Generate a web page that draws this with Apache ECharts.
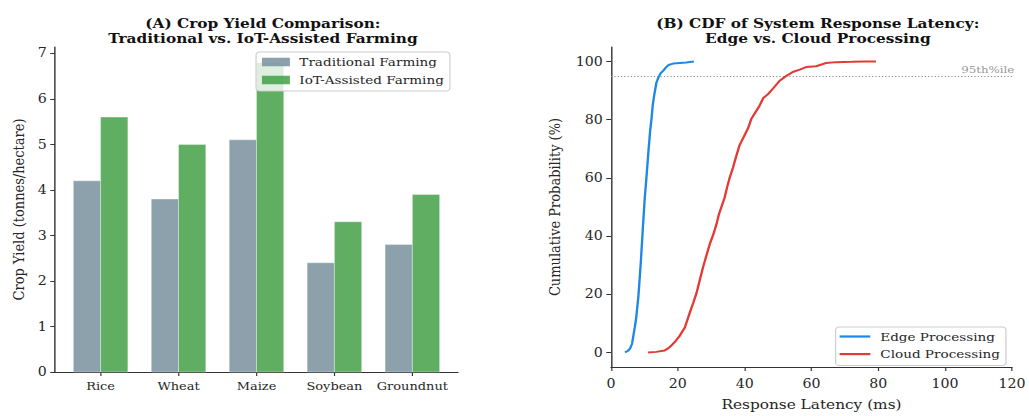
<!DOCTYPE html>
<html>
<head>
<meta charset="utf-8">
<script src="https://cdn.jsdelivr.net/npm/echarts@6/dist/echarts.min.js"></script>
<style>
html,body{margin:0;padding:0;background:#fff;overflow:hidden;width:1029px;height:416px;}
#main{width:872px;height:416px;transform:scaleX(1.18);transform-origin:0 0;}
</style>
</head>
<body>
<div id="main"></div>
<script>
// ---- Data ----
var categories = ['Rice', 'Wheat', 'Maize', 'Soybean', 'Groundnut'];
var traditional = [4.2, 3.8, 5.1, 2.4, 2.8];
var iotAssisted = [5.6, 5.0, 6.8, 3.3, 3.9];
var yieldTicks = [0, 1, 2, 3, 4, 5, 6, 7];

var edgeLatency = [4.2, 5.0, 5.7, 6.3, 6.7, 7.1, 7.5, 8.2, 8.9, 9.6, 10.1, 10.6, 11.2, 11.7, 12.1, 12.5, 12.9, 13.6, 14.3, 14.9, 15.6, 16.3, 17.2, 18.6, 20.5, 22.5, 24.8];
var edgeCdf     = [0, 0.5, 1.3, 3, 5.8, 8.5, 11.5, 19.3, 30.6, 44, 53, 60, 69, 76, 80, 85, 88.2, 92.8, 94.8, 96, 96.8, 97.8, 98.8, 99.3, 99.5, 99.7, 100];
var cloudLatency = [11.1, 13.5, 16.1, 17.2, 18.1, 19.4, 20.6, 22.1, 22.8, 23.6, 24.6, 25.6, 26.6, 27.6, 28.6, 29.6, 30.6, 31.6, 32.3, 33.0, 34.0, 34.8, 35.5, 36.5, 37.5, 38.5, 39.7, 41.0, 42.0, 43.2, 44.5, 45.6, 47.0, 48.7, 50.4, 52.4, 54.4, 56.5, 58.4, 61.4, 63.0, 64.4, 67.4, 72.0, 76.0, 79.3];
var cloudCdf     = [0, 0.2, 0.7, 1.5, 2.4, 4, 5.8, 8.6, 11, 13.7, 17, 20.4, 25, 29.5, 33.5, 37.4, 40.5, 44.2, 47.5, 49.8, 53.2, 57, 60, 63.5, 67.5, 71.3, 74, 77, 80.3, 82.5, 84.9, 87.5, 88.8, 91, 93.3, 95, 96.4, 97.2, 98.1, 98.4, 99, 99.5, 99.8, 99.9, 100, 100];
var latencyTicks = [0, 20, 40, 60, 80, 100, 120];
var probTicks = [0, 20, 40, 60, 80, 100];
var percentileLevel = 95;

// ---- Build ----
function zip(a, b) { return a.map(function (v, i) { return [v, b[i]]; }); }
var FONT = '"DejaVu Serif", serif';
var AX = '#333';
var TXT = '#262626';
var BW = 0.35;

function barRenderer(offset) {
  return function (params, api) {
    var x = api.value(0) + offset;
    var v = api.value(1);
    var p0 = api.coord([x - BW / 2, v]);
    var p1 = api.coord([x + BW / 2, 0]);
    return {
      type: 'rect',
      shape: { x: p0[0], y: p0[1], width: p1[0] - p0[0], height: p1[1] - p0[1] },
      style: api.style({ stroke: 'rgba(255,255,255,0.8)', lineWidth: 0.5 })
    };
  };
}

var chart = echarts.init(document.getElementById('main'), null, { renderer: 'svg' });

var tickStyle = { color: AX, width: 1 };
var axisLineStyle = { show: true, onZero: false, lineStyle: { color: AX, width: 1.2 } };

var option = {
  animation: false,
  backgroundColor: '#fff',
  title: [
    { text: '(A) Crop Yield Comparison:\nTraditional vs. IoT-Assisted Farming', left: 217.8, top: 11, textAlign: 'center',
      textStyle: { fontFamily: FONT, fontWeight: 'bold', fontSize: 13, lineHeight: 15, color: '#111' } },
    { text: '(B) CDF of System Response Latency:\nEdge vs. Cloud Processing', left: 688.1, top: 11, textAlign: 'center',
      textStyle: { fontFamily: FONT, fontWeight: 'bold', fontSize: 13, lineHeight: 15, color: '#111' } }
  ],
  grid: [
    { left: 46.6, top: 47, width: 341.5, height: 325 },
    { left: 517.8, top: 47, width: 340.7, height: 325 }
  ],
  xAxis: [
    { type: 'value', gridIndex: 0, min: -0.585, max: 4.585,
      axisLine: axisLineStyle, splitLine: { show: false },
      axisTick: { show: true, length: 4, lineStyle: tickStyle, customValues: [0, 1, 2, 3, 4] },
      axisLabel: { customValues: [0, 1, 2, 3, 4], fontFamily: FONT, fontSize: 11, color: TXT, margin: 9,
        formatter: function (v) { return categories[Math.round(v)]; } } },
    { type: 'value', gridIndex: 1, min: 0, max: 120, interval: 20,
      axisLine: axisLineStyle, splitLine: { show: false },
      axisTick: { show: true, length: 4, lineStyle: tickStyle },
      name: 'Response Latency (ms)', nameLocation: 'middle', nameGap: 31,
      nameTextStyle: { fontFamily: FONT, fontSize: 13, color: TXT },
      axisLabel: { fontFamily: FONT, fontSize: 12, color: TXT, margin: 11,
        formatter: function (v) { return latencyTicks.indexOf(v) >= 0 ? String(v) : ''; } } }
  ],
  yAxis: [
    { type: 'value', gridIndex: 0, min: 0, max: 7.14,
      axisLine: axisLineStyle, splitLine: { show: false },
      name: 'Crop Yield (tonnes/hectare)', nameLocation: 'middle', nameGap: 24,
      nameTextStyle: { fontFamily: FONT, fontSize: 13, color: TXT },
      axisTick: { show: true, length: 4, lineStyle: tickStyle, customValues: yieldTicks },
      axisLabel: { customValues: yieldTicks, fontFamily: FONT, fontSize: 12, color: TXT, margin: 7 } },
    { type: 'value', gridIndex: 1, min: -5, max: 105,
      axisLine: axisLineStyle, splitLine: { show: false },
      name: 'Cumulative Probability (%)', nameLocation: 'middle', nameGap: 41,
      nameTextStyle: { fontFamily: FONT, fontSize: 13, color: TXT },
      axisTick: { show: true, length: 4, lineStyle: tickStyle, customValues: probTicks },
      axisLabel: { customValues: probTicks, fontFamily: FONT, fontSize: 12, color: TXT, margin: 7 } }
  ],
  legend: [
    { data: [{ name: 'Traditional Farming', icon: 'rect' }, { name: 'IoT-Assisted Farming', icon: 'rect' }],
      orient: 'vertical', left: 217, top: 52, itemWidth: 23.7, itemHeight: 8.5, itemGap: 6,
      padding: [4, 5, 5, 5], backgroundColor: 'rgba(255,255,255,0.8)', borderColor: '#ccc', borderWidth: 1, borderRadius: 3,
      textStyle: { fontFamily: FONT, fontSize: 11.5, lineHeight: 12, color: TXT, padding: [0, 0, 0, 3] } },
    { data: [{ name: 'Edge Processing', icon: 'rect' }, { name: 'Cloud Processing', icon: 'rect' }],
      orient: 'vertical', right: 19.5, top: 327, itemWidth: 26, itemHeight: 2.2, itemGap: 5.6,
      padding: [3.5, 5, 5.5, 3.4], backgroundColor: 'rgba(255,255,255,0.8)', borderColor: '#ccc', borderWidth: 1, borderRadius: 3,
      textStyle: { fontFamily: FONT, fontSize: 11.5, lineHeight: 12, color: TXT, padding: [0, 0, 0, 3.5] } }
  ],
  series: [
    { name: 'Traditional Farming', type: 'custom', xAxisIndex: 0, yAxisIndex: 0,
      itemStyle: { color: '#78909C', opacity: 0.85 },
      encode: { x: 0, y: 1 }, data: zip(categories.map(function (c, i) { return i; }), traditional),
      renderItem: barRenderer(-BW / 2) },
    { name: 'IoT-Assisted Farming', type: 'custom', xAxisIndex: 0, yAxisIndex: 0,
      itemStyle: { color: '#43A047', opacity: 0.85 },
      encode: { x: 0, y: 1 }, data: zip(categories.map(function (c, i) { return i; }), iotAssisted),
      renderItem: barRenderer(BW / 2) },
    { name: 'Edge Processing', type: 'line', xAxisIndex: 1, yAxisIndex: 1,
      symbol: 'none', showSymbol: false, color: '#1E88E5',
      itemStyle: { color: '#1E88E5' },
      lineStyle: { color: '#1E88E5', width: 2 },
      data: zip(edgeLatency, edgeCdf),
      markLine: {
        silent: true, symbol: ['none', 'none'],
        lineStyle: { color: '#888', type: [1, 1.8], width: 1 },
        label: { show: true, position: 'insideEndTop', formatter: '95th%ile', color: '#999', fontFamily: FONT, fontSize: 10, distance: [-2, 1] },
        data: [{ yAxis: percentileLevel }]
      } },
    { name: 'Cloud Processing', type: 'line', xAxisIndex: 1, yAxisIndex: 1,
      symbol: 'none', showSymbol: false, color: '#E53935',
      itemStyle: { color: '#E53935' },
      lineStyle: { color: '#E53935', width: 2 },
      data: zip(cloudLatency, cloudCdf) }
  ]
};
chart.setOption(option);
</script>
</body>
</html>
